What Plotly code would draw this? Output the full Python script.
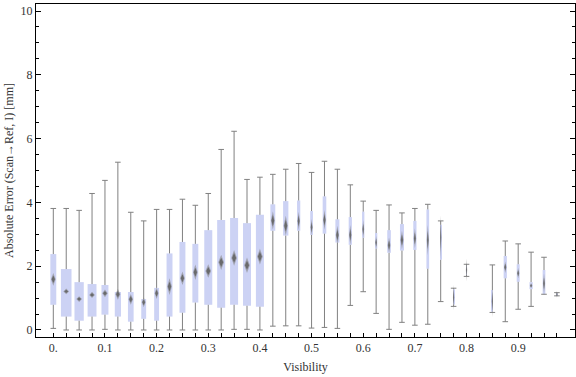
import plotly.graph_objects as go

# ---- data ----
visibility = [round(0.025 * i, 3) for i in range(40)]
lo   = [0.05,0.00,0.00,0.00,0.02,0.00,0.00,0.00,0.00,0.00,
        0.00,0.00,0.00,0.00,0.02,0.02,0.00,0.12,0.13,0.13,
        0.06,0.08,0.05,0.77,1.20,0.52,0.02,0.24,0.15,0.18,
        0.89,0.74,1.68,None,0.55,0.26,0.65,0.74,1.12,1.07]
q1   = [0.79,0.42,0.29,0.42,0.48,0.42,0.26,0.35,0.29,0.42,
        0.54,0.86,0.79,0.70,0.79,0.76,0.73,3.11,2.96,3.11,
        2.98,3.02,2.74,2.67,2.89,2.55,2.42,2.49,2.51,1.92,
        2.20,0.80,1.72,None,0.57,1.62,1.51,1.28,1.13,1.09]
mean = [1.59,1.21,0.97,1.10,1.15,1.12,0.96,0.87,1.15,1.36,
        1.62,1.81,1.85,2.12,2.26,2.03,2.30,3.43,3.27,3.42,
        3.22,3.45,2.98,2.98,3.16,2.74,2.66,2.82,2.87,2.82,
        2.90,1.02,1.88,None,0.90,1.97,1.78,1.39,1.46,1.12]
q3   = [2.38,1.91,1.50,1.44,1.41,1.19,1.19,0.97,1.32,2.40,
        2.76,2.70,3.13,3.45,3.51,3.35,3.61,3.94,4.04,4.06,
        3.73,4.19,3.47,3.54,3.71,3.04,3.13,3.32,3.42,3.78,
        3.30,1.28,2.02,None,1.25,2.32,2.06,1.50,1.88,1.15]
hi   = [3.81,3.81,3.75,4.28,4.69,5.26,3.69,3.42,3.78,3.78,
        4.10,3.91,4.28,5.66,6.23,4.72,4.79,4.88,5.04,5.22,
        4.94,5.29,5.04,4.55,4.04,3.75,3.92,3.67,3.81,3.94,
        3.42,1.31,2.06,None,2.04,2.79,2.70,2.44,2.28,1.17]
mean_ci = [0.20,0.09,0.09,0.10,0.12,0.17,0.17,0.16,0.18,0.26,
           0.21,0.24,0.21,0.24,0.25,0.24,0.25,0.29,0.31,0.29,
           0.26,0.31,0.29,0.31,0.29,0.21,0.24,0.29,0.31,0.47,
           0.70,0.40,0.35,None,0.50,0.18,0.16,0.08,0.31,0.10]
# relative box width (fraction of category spacing), reflects group size
rel_width = [0.46,0.82,0.72,0.69,0.54,0.48,0.44,0.38,0.38,0.46,
             0.46,0.46,0.62,0.62,0.62,0.62,0.62,0.38,0.41,0.25,
             0.21,0.28,0.31,0.25,0.18,0.18,0.28,0.31,0.25,0.21,
             0.05,0.08,0.06,None,0.06,0.25,0.23,0.25,0.21,0.06]
x_labels = {0: "0.", 4: "0.1", 8: "0.2", 12: "0.3", 16: "0.4",
            20: "0.5", 24: "0.6", 28: "0.7", 32: "0.8", 36: "0.9"}

# ---- styling ----
BOX = "#CCD2F4"
WHISK = "#808080"
FONT = dict(family="Liberation Serif, Times New Roman, serif", size=12, color="#333333")
step = 0.025

idx = [i for i in range(len(visibility)) if lo[i] is not None]
xs = [visibility[i] for i in idx]
widths = [rel_width[i] * step for i in idx]

fig = go.Figure()

# boxes
fig.add_trace(go.Bar(
    x=xs, base=[q1[i] for i in idx], y=[q3[i] - q1[i] for i in idx],
    width=widths, marker=dict(color=BOX, line=dict(width=0)),
    hoverinfo="skip", showlegend=False))

# whiskers (outside the box)
wx, wy = [], []
for i in idx:
    x = visibility[i]
    wx += [x, x, None, x, x, None]
    wy += [lo[i], q1[i], None, q3[i], hi[i], None]
fig.add_trace(go.Scatter(x=wx, y=wy, mode="lines",
                         line=dict(color=WHISK, width=1),
                         hoverinfo="skip", showlegend=False))
# whisker caps
fig.add_trace(go.Scatter(
    x=xs + xs, y=[lo[i] for i in idx] + [hi[i] for i in idx], mode="markers",
    marker=dict(symbol="line-ew", size=4, line=dict(color=WHISK, width=1)),
    hoverinfo="skip", showlegend=False))

# mean diamonds (outer soft + inner dark to mimic the blurred marker)
for hscale, wscale, col in [(1.0, 1.0, "rgba(135,135,135,0.6)"),
                            (0.6, 0.7, "rgba(95,95,95,0.85)")]:
    dx, dy = [], []
    for i in idx:
        x = visibility[i]
        hw = min(0.4 * rel_width[i] * step, 0.0056)
        hw = max(hw, 0.0013) * wscale
        m, h = mean[i], mean_ci[i] * hscale
        dx += [x, x + hw, x, x - hw, x, None]
        dy += [m + h, m, m - h, m, m + h, None]
    fig.add_trace(go.Scatter(x=dx, y=dy, mode="lines", fill="toself",
                             fillcolor=col,
                             line=dict(width=0, color="rgba(0,0,0,0)"),
                             hoverinfo="skip", showlegend=False))

fig.update_layout(
    width=576, height=377,
    margin=dict(l=36, r=1, t=4, b=40),
    paper_bgcolor="white", plot_bgcolor="white",
    font=FONT, barmode="overlay", showlegend=False,
    xaxis=dict(
        range=[-0.0335, 1.0100],
        tickvals=visibility,
        ticktext=[x_labels.get(i, "") for i in range(len(visibility))],
        ticks="inside", ticklen=4, tickcolor="black", tickwidth=1,
        showline=True, linecolor="black", linewidth=1, mirror=True,
        showgrid=False, zeroline=False,
        title=dict(text="Visibility", standoff=8, font=FONT),
        tickfont=FONT),
    yaxis=dict(
        range=[-0.22, 10.22],
        tickvals=[0, 2, 4, 6, 8, 10],
        ticks="inside", ticklen=5, tickcolor="black", tickwidth=1,
        minor=dict(dtick=0.5, ticks="inside", ticklen=3, tickcolor="black", showgrid=False),
        showline=True, linecolor="black", linewidth=1, mirror="ticks",
        showgrid=False, zeroline=False,
        title=dict(text="Absolute Error (Scan\u2192Ref, I) [mm]", standoff=4, font=FONT),
        tickfont=FONT),
)

fig.write_html("out.html", config={"displayModeBar": False},
               post_script="document.body.style.margin='0';document.body.style.padding='0';")
